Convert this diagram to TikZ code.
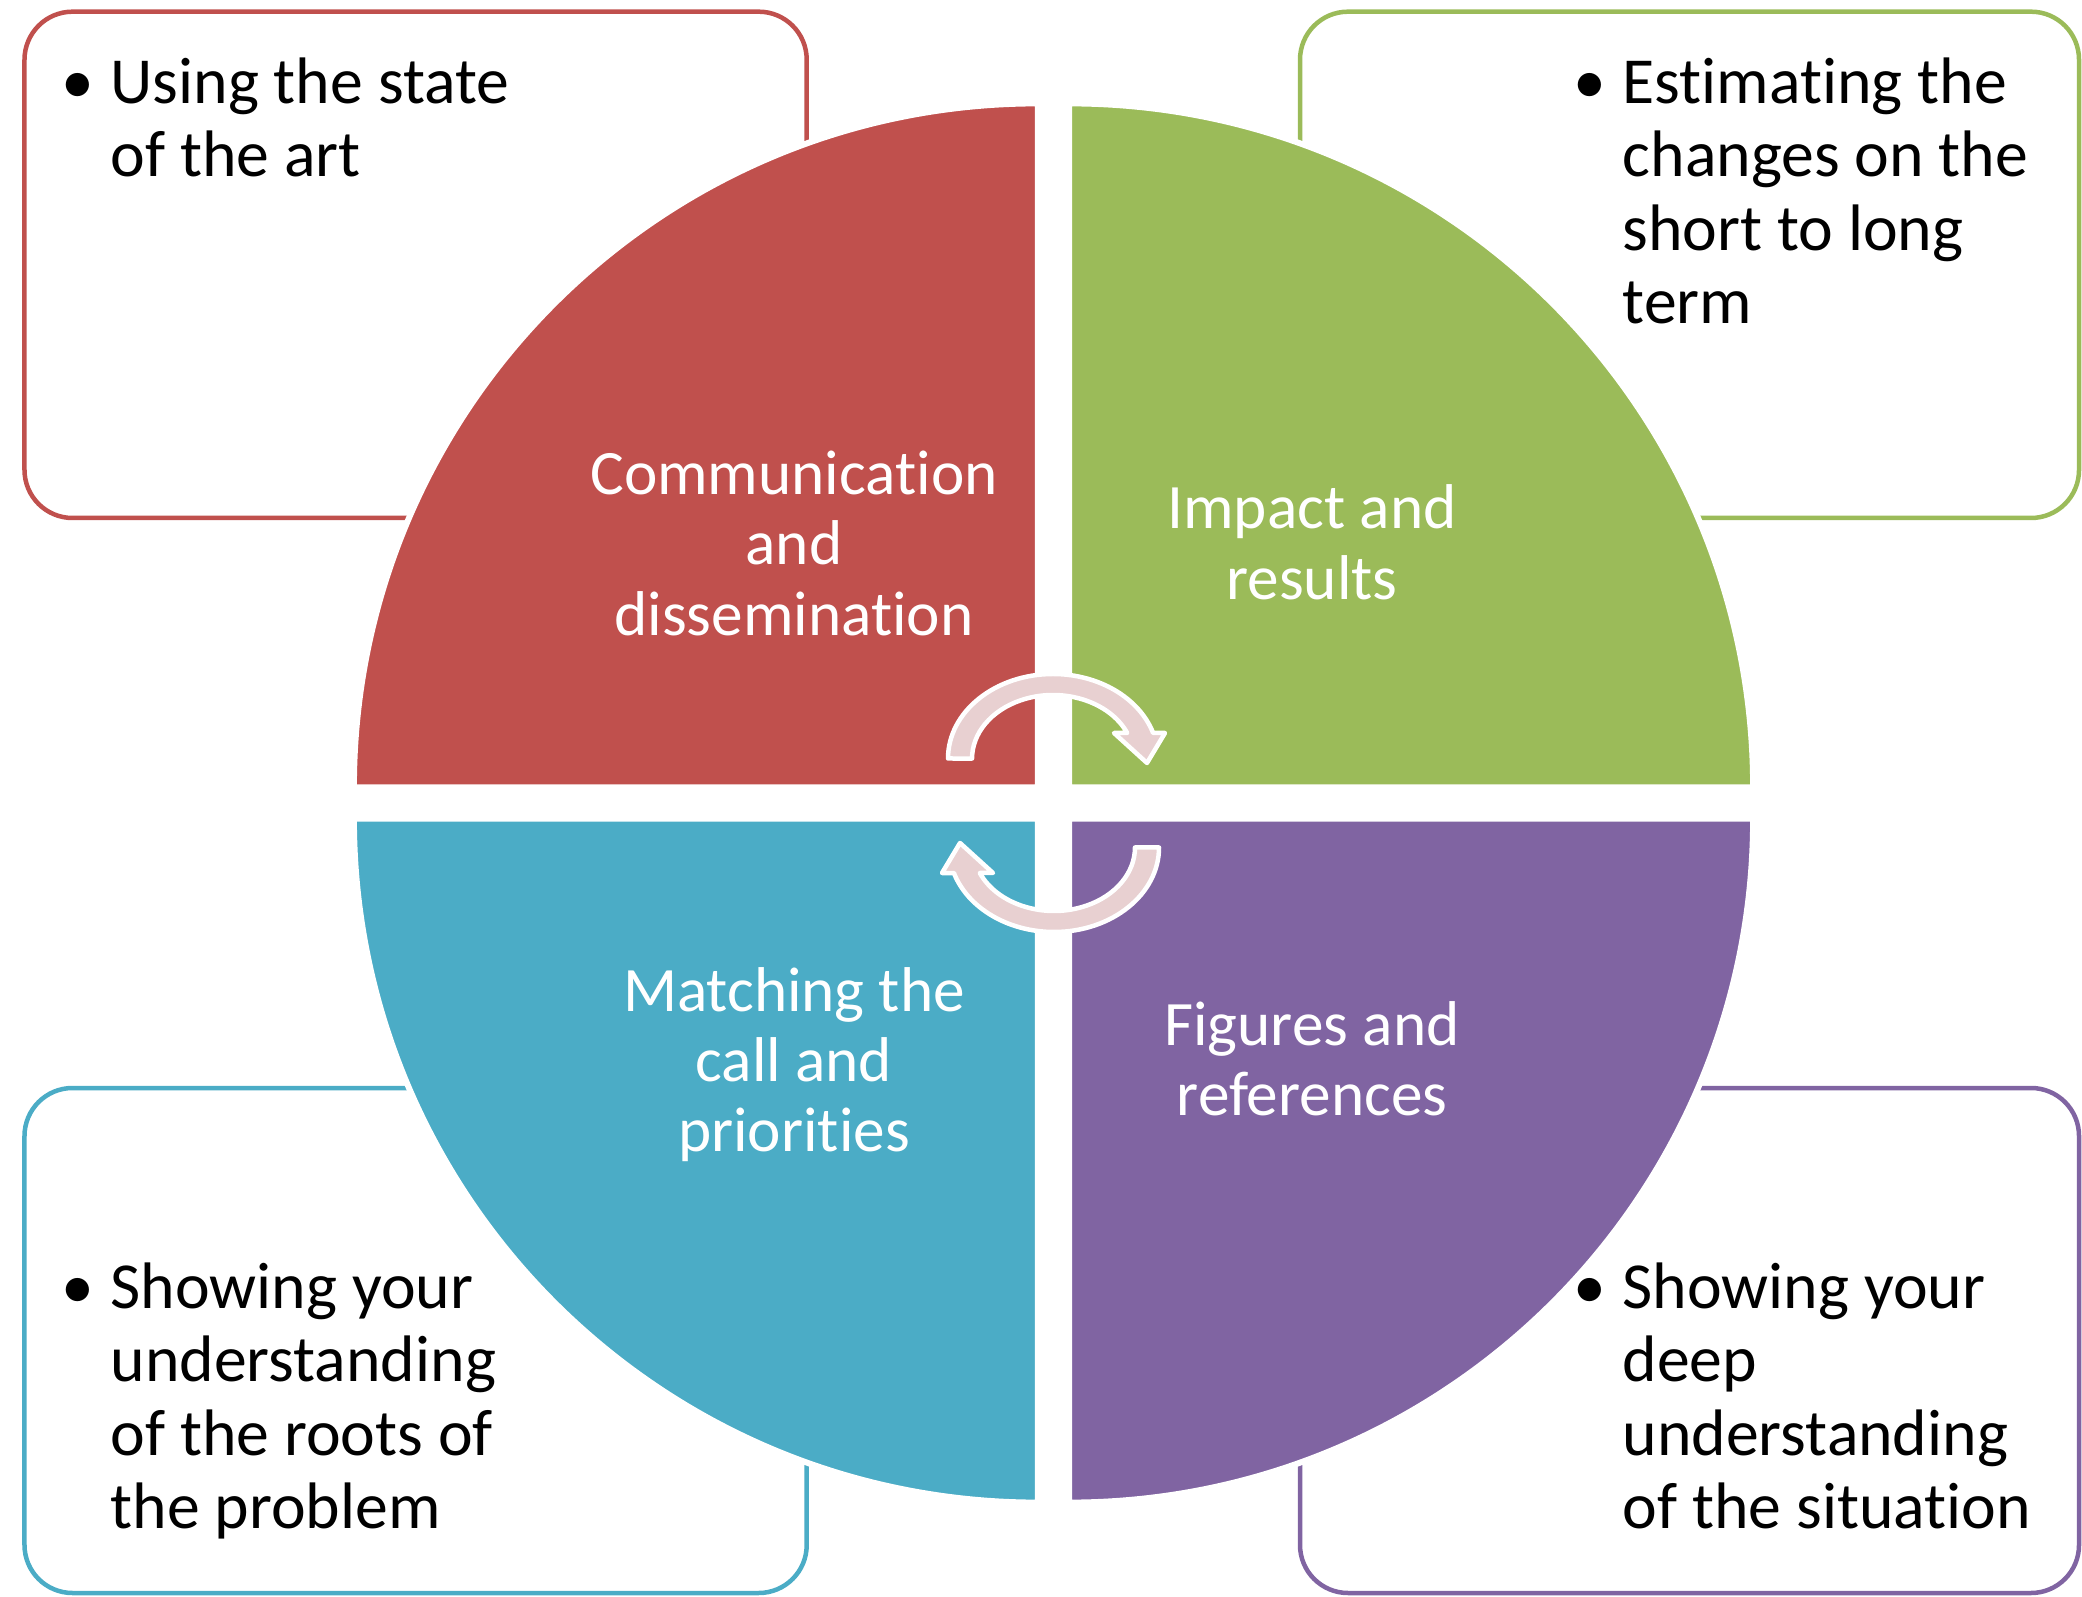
\documentclass[tikz,border=0pt]{standalone}
\usepackage{fontspec}
\setmainfont{Carlito}[Ligatures=CommonOff]
\usetikzlibrary{calc,positioning}

\definecolor{cRed}{HTML}{C0504D}
\definecolor{cGreen}{HTML}{9BBB59}
\definecolor{cBlue}{HTML}{4BACC6}
\definecolor{cPurple}{HTML}{8064A2}
\definecolor{cArrow}{HTML}{E8D0D1}
\newcommand{\itembul}{\llap{\makebox[0pt][c]{\textbullet}\hspace{0.33cm}}}

\begin{document}
\begin{tikzpicture}[box/.style = {rounded corners=0.48cm, line width=0.045cm, fill=white},
          quad/.style = {draw=white, line width=0.06cm},
          boxtxt/.style = {align=left, inner sep=0pt, anchor=base west, font=\fontsize{18.7}{20.8}\selectfont},
          quadtxt/.style = {align=center, inner sep=0pt, anchor=base, text=white, font=\fontsize{18}{20}\selectfont},
          cyc/.style = {fill=cArrow, draw=white, line width=0.045cm, line join=round}]
        \useasboundingbox (0,0) rectangle (20.82,15.96);
        \coordinate (c) at (10.535,7.93);
        % side boxes (text placed by the baseline of its last line)
        \draw[box, draw=cRed] (0.245,10.78) rectangle (8.067,15.843);
        \draw[box, draw=cGreen] (13.00,10.78) rectangle (20.79,15.843);
        \draw[box, draw=cBlue] (0.245,0.03) rectangle (8.067,5.08);
        \draw[box, draw=cPurple] (13.00,0.03) rectangle (20.79,5.08);
        \node[boxtxt] (tl) at (1.10,14.196) {\itembul Using the state\\of the art};
        \node[boxtxt] (tr) at (16.22,12.728) {\itembul Estimating the\\changes on the\\short to long\\term};
        \node[boxtxt] (bl) at (1.10,0.679) {\itembul Showing your\\understanding\\of the roots of\\the problem};
        \node[boxtxt] (br) at (16.22,0.679) {\itembul Showing your\\deep\\understanding\\of the situation};
        % quarter discs
        \draw[quad, fill=cRed] ($(c)+(-0.156,0.156)$) -- ++(-6.84,0) arc[start angle=180, end angle=90, radius=6.84] -- cycle;
        \draw[quad, fill=cGreen] ($(c)+(0.156,0.156)$) -- ++(0,6.84) arc[start angle=90, end angle=0, radius=6.84] -- cycle;
        \draw[quad, fill=cBlue] ($(c)+(-0.156,-0.156)$) -- ++(0,-6.84) arc[start angle=270, end angle=180, radius=6.84] -- cycle;
        \draw[quad, fill=cPurple] ($(c)+(0.156,-0.156)$) -- ++(6.84,0) arc[start angle=0, end angle=-90, radius=6.84] -- cycle;
        \node[quadtxt] (comm) at (7.94,9.609) {Communication\\and\\dissemination};
        \node[quadtxt] (impact) at (13.12,9.969) {Impact and\\results};
        \node[quadtxt] (match) at (7.94,4.444) {Matching the\\call and\\priorities};
        \node[quadtxt] (fig) at (13.12,4.804) {Figures and\\references};
        % cycle arrows
        \foreach \s/\r in {1/0,-1/180}
            \draw[cyc, shift={($(c)+(-0.005*\s,0.445*\s)$)}, rotate=\r]
                (-1.05,0) arc[start angle=180, end angle=17.6, x radius=1.05, y radius=0.845]
                -- (1.12,0.255) -- (0.94,-0.045) -- (0.61,0.255) -- (0.742,0.255)
                arc[start angle=23.7, end angle=180, x radius=0.81, y radius=0.635] -- cycle;
\end{tikzpicture}
\end{document}
